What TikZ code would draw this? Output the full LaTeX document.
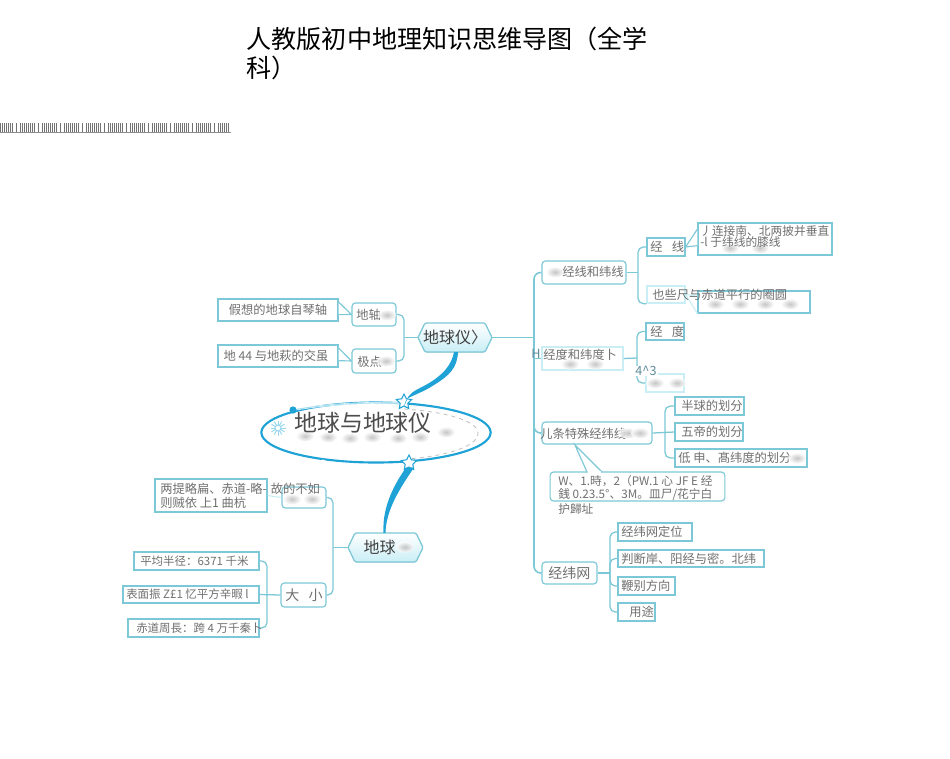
\documentclass[tikz,border=0pt]{standalone}
\usepackage{fontspec}
\setmainfont{Noto Sans CJK SC}
\usetikzlibrary{calc,shapes.geometric}
\definecolor{lineC}{HTML}{7CC8D6}
\definecolor{deepC}{HTML}{1FA3D6}
\definecolor{txtC}{HTML}{707070}
\definecolor{ocrC}{HTML}{5F8C9A}
\definecolor{paleC}{HTML}{C9EEF6}
\newcommand{\fs}[1]{\fontsize{#1}{#1}\selectfont}
\newcommand{\bx}[6]{\node[#6,minimum width={(#4-#2)*0.75pt},minimum height={(#5-#3)*0.75pt}] (#1) at ({(#2+#4)/2},{(#3+#5)/2}) {};}
\tikzset{
  x=0.75pt,y=-0.75pt,
  leaf/.style={draw=lineC,line width=0.85pt,fill=white,inner sep=0pt},
  soft/.style={draw=paleC,line width=0.95pt,fill=white,inner sep=0pt},
  round/.style={leaf,rounded corners=2.5pt},
  txt/.style={text=txtC,inner sep=0pt,font=\fs{9.2},align=left},
  conn/.style={draw=lineC,line width=0.95pt,rounded corners=4pt},
  trunk/.style={draw=lineC,line width=1.2pt,rounded corners=5pt},
  wedge/.style={draw=lineC,line width=0.85pt,fill=white,line join=round},
  hexa/.style={draw=lineC,line width=0.95pt,top color=white,bottom color=paleC,rounded corners=1pt},
  hexlabel/.style={inner sep=0pt,text=black!75,font=\fs{12}},
  ocr/.style={text=ocrC,inner sep=0pt,font=\fs{9.5}},
  starry/.style={star,star points=5,star point ratio=2,draw=deepC,fill=white,line width=0.8pt,minimum size=12pt,inner sep=0pt},
}
\newcommand{\smudge}[2]{\shade[inner color=black!28,outer color=white,opacity=.8] (#1,#2) ellipse (9 and 5.5);}
\begin{document}
\begin{tikzpicture}
\useasboundingbox (0,0) rectangle (950,758);
\fill[white] (0,0) rectangle (950,758);
% title
\node[anchor=west,inner sep=0pt,font=\fs{18.8},text=black] (title1) at (246.5,39) {人教版初中地理知识思维导图（全学};
\node[anchor=west,inner sep=0pt,font=\fs{18.8},text=black] (title2) at (246.5,68) {科）};
% barcode strip
\draw[black!45,line width=0.4pt] (0,132) -- (231,132);
\foreach \i in {0,...,114}{
  \pgfmathtruncatemacro{\m}{mod(\i,11)}
  \ifnum\m=7\relax\else\ifnum\m=9\relax\else
    \draw[black!55,line width=0.55pt] ({\i*2},123) -- ({\i*2},132);
  \fi\fi
}
% central ellipse
\node[draw=deepC,line width=1.6pt,ellipse,minimum width=172pt,minimum height=45pt,inner sep=0pt] (core) at (376,432.5) {};
\draw[black!25,dashed,line width=0.6pt] (404,409) .. controls (450,412) and (478,422) .. (478,433) .. controls (478,447) and (445,456) .. (408,459);
\draw[white,line width=1.3pt] (293,410) .. controls (325,404) and (370,402) .. (404,403);
\draw[paleC!80!deepC,line width=0.8pt] (293,410) .. controls (325,404) and (370,402) .. (404,403);
\fill[white] (323,462) circle (2.5);
\fill[deepC] (293,410) circle (3.6);
\foreach \a in {0,30,...,330}{\draw[paleC!70!deepC,line width=0.7pt] (278,428) ++(\a:2.5) -- ++(\a:5);}
\draw[paleC!70!deepC,line width=0.7pt] (278,428) circle (3);
\foreach \p/\q in {305/436,328/437,350/438,372/437,398/438,420/437,446/432}{\smudge{\p}{\q}}
\node[inner sep=0pt,text=black!70,font=\fs{17.2}] (coretext) at (363,423) {地球与地球仪};
\node[starry] (star1) at (404,402) {};
\node[starry] (star2) at (409,463) {};
% hexagon main nodes
\filldraw[hexa] (425,323) -- (485,323) -- (492,337.5) -- (485,352) -- (425,352) -- (418,337.5) -- cycle;
\node[hexlabel] (dqy) at (455,337.5) [minimum width=55.5pt,minimum height=21.7pt] {地球仪〉};
\filldraw[hexa] (355,533) -- (416,533) -- (423,547.5) -- (416,562) -- (355,562) -- (348,547.5) -- cycle;
\smudge{405}{547}
\node[hexlabel,anchor=center] (dq) at (385.5,547.5) [minimum width=56pt,minimum height=21.7pt] {\hspace{-9pt}地球\hspace{9pt}};
% tapered main links
\fill[deepC] (dqy.south) ++(-1,0) .. controls (450,372) and (432,382) .. (418,389) .. controls (410,393) and (406,398) .. (star1.south) -- (star1.north east)
  .. controls (416,394) and (425,391) .. (434,385) .. controls (450,375) and (457,368) .. ($(dqy.south)+(3,0)$) -- cycle;
\fill[deepC] (star2.south) ++(-3,0) .. controls (396,482) and (382,505) .. ($(dq.north)+(-2,0)$) -- ($(dq.north)+(0,0)$)
  .. controls (386,510) and (400,488) .. ($(star2.south)+(5,0)$) -- cycle;
% left upper leaves
\bx{axisnote}{218}{299}{338}{321}{leaf}
\bx{polenote}{218}{345}{338}{367}{leaf}
\bx{axis}{352}{303}{396}{326}{round}
\bx{pole}{352}{349}{396}{373}{round}
\node[txt] (t1) at (278,310) {假想的地球自琴轴};
\node[txt] (t2) at (276,356) {地 44 与地萩的交虽};
\node[txt,anchor=west] (t3) at (356,315) {地轴};
\node[txt,anchor=west] (t4) at (357,362) {极点};
\smudge{387}{315}\smudge{386}{361}
\draw[wedge] ($(axisnote.north east)!.15!(axisnote.south east)$) -- (axis.west) -- ($(axisnote.north east)!.7!(axisnote.south east)$);
\draw[wedge] ($(polenote.north east)!.15!(polenote.south east)$) -- (pole.west) -- ($(polenote.north east)!.7!(polenote.south east)$);
\coordinate (jl) at (404,337.5);
\draw[conn] (axis.east) -| (jl);
\draw[conn] (pole.east) -| (jl);
\draw[conn] (jl) -- (dqy.west);
% right branch boxes
\bx{lines}{542}{261}{626}{284}{round}
\bx{degs}{542}{347}{623}{370}{soft}
\bx{special}{542}{422}{652}{444}{round}
\bx{net}{542}{562}{597}{584}{round}
\coordinate (jr) at (534,337.5);
\draw[trunk] (dqy.east) -- (jr);
\draw[trunk] (lines.west) -| (jr);
\draw[trunk] (net.west) -| (jr);
\draw[trunk] (jr) -- (534,433) -- (special.west);
\draw[lineC,line width=0.8pt] (jr) |- (degs.west);
\node[txt,anchor=west] (t5) at (562,272) {经线和纬线};
\smudge{555}{272}
\node[ocr,anchor=west] (t6) at (531,354) {H};
\node[txt,anchor=west] (t7) at (543,355) {经度和纬度卜};
\smudge{570}{364}\smudge{595}{364}
\node[txt,anchor=west] (t8) at (540,434) {儿条特殊经纬线};
\smudge{628}{433}\smudge{640}{433}
\node[txt,anchor=west,font=\fs{10.5}] (t9) at (548,573) {经纬网};
% branch 1 leaves
\bx{jx}{647}{238}{685}{256}{leaf}
\bx{wx}{647}{286}{685}{303}{soft}
\bx{jxnote}{698}{223}{832}{255}{leaf}
\bx{wxnote}{698}{291}{810}{313}{leaf}
\draw[wedge] ($(jxnote.north west)!.2!(jxnote.south west)$) -- (jx.east) -- ($(jxnote.north west)!.7!(jxnote.south west)$);
\draw[draw=paleC,line width=0.85pt,fill=white] (wx.east) -- ($(wxnote.north west)!.25!(wxnote.south west)$);
\draw[draw=paleC,line width=0.85pt] (wx.east) -- (wxnote.south west);
\coordinate (j1) at (638,272.5);
\draw[conn] (lines.east) -- (j1);
\draw[conn] (jx.west) -| (j1);
\draw[conn] (wx.south west) -| (j1);
\node[txt,anchor=west] (t10) at (650,247) {经\hspace{7pt}线};
\smudge{730}{248}\smudge{760}{248}
\node[txt,anchor=west,font=\fs{8.8}] (t11) at (700,231) {丿连接南、北两披并垂直};
\node[txt,anchor=west,font=\fs{8.8}] (t12) at (700,242) {-l 于纬线的膝线};
\node[txt,anchor=west] (t13) at (652,295) {也些尺与赤道平行的圈圆};
\foreach \p/\q in {715/304,740/304,765/304,790/304}{\smudge{\p}{\q}}
% branch 2 leaves
\bx{jd}{646}{323}{684}{340}{leaf}
\bx{wd}{646}{374}{684}{392}{soft}
\coordinate (j2) at (637,358);
\draw[conn] (degs.east) -- (j2);
\draw[conn] (jd.west) -| (j2);
\draw[conn] (wd.west) -| (j2);
\node[txt,anchor=west] (t14) at (650,332) {经\hspace{7pt}度};
\node[ocr,anchor=center,fill=white,inner xsep=1pt] (t15) at (646,371) {4\^{}3};
\smudge{655}{383}\smudge{677}{383}
% branch 3 leaves
\bx{hemi}{675}{397}{744}{415}{leaf}
\bx{zone}{675}{423}{743}{441}{leaf}
\bx{lat}{675}{449}{807}{467}{leaf}
\coordinate (j3) at (665,433);
\draw[conn] (special.east) -- (zone.west);
\draw[conn] (hemi.west) -| (j3);
\draw[conn] (lat.west) -| (j3);
\node[txt,anchor=west] (t16) at (681,406) {半球的划分};
\node[txt,anchor=west] (t17) at (681,432) {五帝的划分};
\node[txt,anchor=west] (t18) at (678,458) {低~申、髙纬度的划分};
\smudge{797}{458}
% callout
\node[round,minimum width=131pt,minimum height=21.7pt] (call) at (637.5,486.5) {};
\coordinate (tip) at (575,445);
\coordinate (cb1) at (587,472);
\coordinate (cb2) at (602,472);
\fill[white] (cb1) -- (tip) -- (cb2) -- cycle;
\draw[lineC,line width=0.85pt] (cb1) -- (tip) -- (cb2);
\draw[white,line width=1.1pt] (588,472) -- (601,472);
\node[txt,anchor=north west,font=\fs{8.8},align=left] (t19) at (558,475) {W、1.時，2（PW.1 心 JF E 经\\[1pt]銭 0.23.5°、3M。皿尸/花宁白\\[1pt]护歸址};
% branch 4 leaves
\bx{dw}{618}{523}{692}{541}{leaf}
\bx{pd}{618}{550}{764}{567}{leaf}
\bx{bf}{618}{577}{675}{595}{leaf}
\bx{yt}{618}{603}{655}{621}{leaf}
\coordinate (j4) at (610,573);
\draw[conn] (net.east) -- (j4);
\draw[conn] (dw.west) -| (j4);
\draw[conn] (yt.west) -| (j4);
\draw[conn] (pd.west) -| (j4);
\draw[conn] (bf.west) -| (j4);
\node[txt,anchor=west] (t20) at (621,532) {经纬网定位};
\node[txt,anchor=west] (t21) at (621,558.5) {判断岸、阳经与密。北纬};
\node[txt,anchor=west] (t22) at (621,586) {鞭别方向};
\node[txt,anchor=west] (t23) at (629,612) {用途};
% lower left
\bx{shape}{282}{487}{326}{508}{round}
\bx{shapenote}{155}{479}{267}{512}{leaf}
\bx{size}{281}{583}{326}{607}{round}
\bx{rad}{134}{552}{259}{570}{leaf}
\bx{area}{123}{586}{259}{603}{leaf}
\bx{equ}{128}{619}{259}{637}{leaf}
\draw[draw=paleC,line width=0.85pt] (shapenote.east) -- (shape.west);
\coordinate (j5) at (333,547.5);
\draw[conn] (j5) -- (dq.west);
\draw[conn] (shape.east) -| (j5);
\draw[conn] (size.east) -| (j5);
\coordinate (j6) at (267,595);
\draw[conn] (area.east) -- (size.west);
\draw[conn] (rad.east) -| (j6);
\draw[conn] (equ.east) -| (j6);
\smudge{292}{499}\smudge{312}{499}
\node[txt,anchor=west] (t24) at (160,489) {两提略扁、赤道-略-\hspace{3pt}故的不如};
\node[txt,anchor=west] (t25) at (160,503) {则贼依 上1 曲杭};
\node[txt,font=\fs{10.5}] (t26) at (304,595) {大\hspace{7pt}小};
\node[txt,anchor=west,font=\fs{8.6}] (t27) at (140,561) {平均半径：6371 千米};
\node[txt,anchor=west,font=\fs{8.6}] (t28) at (126,594.5) {表面振 Z£1 忆平方辛暇 l};
\node[txt,anchor=west,font=\fs{8.6}] (t29) at (136,628) {赤道周長：跨 4 万千秦卜};
\end{tikzpicture}
\end{document}
